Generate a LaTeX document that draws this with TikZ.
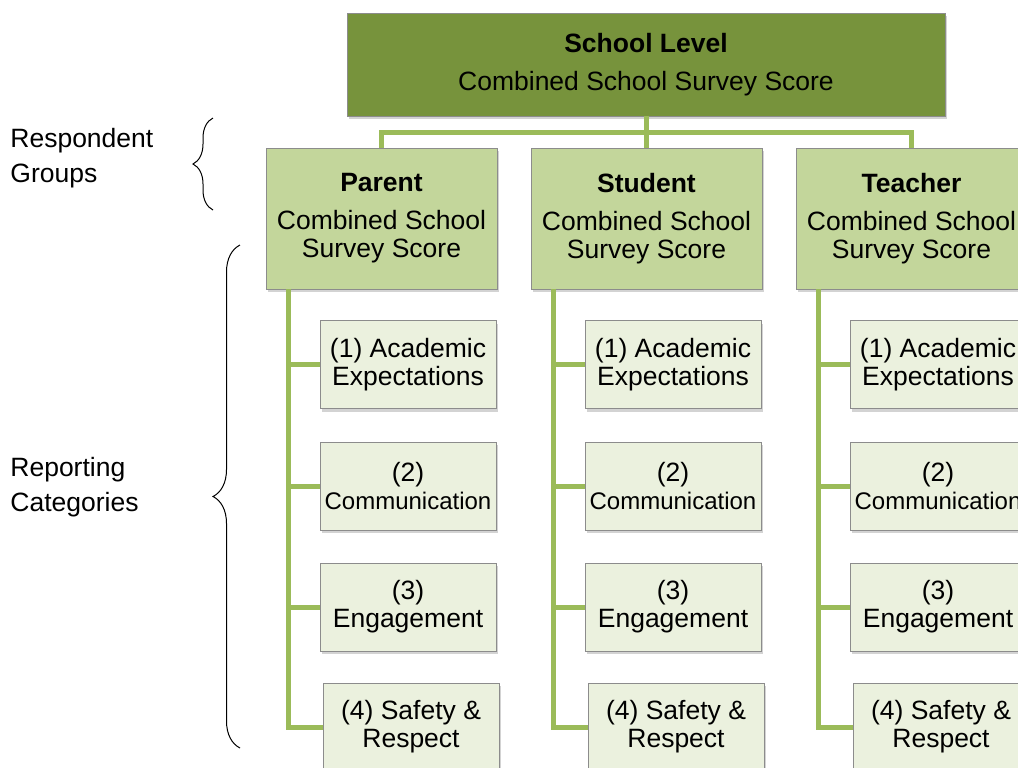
\documentclass[tikz,border=0pt]{standalone}
\usepackage{fontspec}
\setmainfont{Liberation Sans}
\usetikzlibrary{shadows,calc,decorations.pathreplacing}
\definecolor{levelgreen}{HTML}{77933C}
\definecolor{groupgreen}{HTML}{C3D69B}
\definecolor{catgreen}{HTML}{EBF1DE}
\definecolor{linkgreen}{HTML}{9BBB59}
\definecolor{boxgrey}{HTML}{8C8C8C}
\newcommand{\boxfont}{\fontsize{13.25}{14}\selectfont}
\newcommand{\catsmall}{\fontsize{12}{13.5}\selectfont}
\begin{document}
\begin{tikzpicture}
  [
    x=0.5pt, y=-0.5pt,
    box/.style={draw=boxgrey, line width=0.4pt, align=center, inner sep=0pt,
      drop shadow={shadow xshift=1.2pt, shadow yshift=-1.5pt, opacity=0.35}},
    levelbox/.style={box, fill=levelgreen, minimum width=299pt, minimum height=51.5pt, font=\boxfont},
    groupbox/.style={box, fill=groupgreen, minimum width=115.5pt, minimum height=70.5pt, font=\boxfont},
    catbox/.style={box, fill=catgreen, minimum width=88pt, minimum height=44pt, font=\boxfont},
    link/.style={draw=linkgreen, line width=2.5pt},
    sidelabel/.style={anchor=west, align=left, inner sep=0pt, font=\fontsize{13.25}{17.5}\selectfont},
    groupbrace/.style={decorate, decoration={brace, amplitude=#1}, line width=0.5pt}
  ]
  \useasboundingbox (0,0) rectangle (1018,767);
  % school level
  \node [levelbox] (top) at (646,64.5) {\textbf{School Level}\\[5pt]Combined School Survey Score};
  % respondent groups and their reporting categories
  \foreach \g/\x/\who in {1/381.5/Parent,2/646.5/Student,3/911.5/Teacher} {
      \node [groupbox] (grp\g) at (\x,218.5) {\textbf{\who}\\[5pt]Combined School\\Survey Score};
      \coordinate (spine\g) at ($(grp\g.south west)+(23,0)$);
      \foreach \j/\y/\dx/\txt in {1/364.5/0/{(1) Academic\\Expectations},
                                  2/486/0/{(2)\\{\catsmall Communication}},
                                  3/607/0/{(3)\\Engagement},
                                  4/727/3/{(4) Safety \&\\Respect}} {
          \node [catbox] (cat\g-\j) at (\x+26.5+\dx,\y) {\txt};
          \draw [link] (spine\g) |- (cat\g-\j.west);
      }
      \draw [link] (top.south) -- ++(0,16) -| (grp\g.north);
  }
  % labels
  \node [sidelabel] (respondent) at (10,158.5) {Respondent\\Groups};
  \node [sidelabel] (reporting) at (10,487.5) {Reporting\\Categories};
  \draw [groupbrace=10pt] (213,210) -- (213,118);
  \draw [groupbrace=13.5pt] (240,748) -- (240,245);
\end{tikzpicture}
\end{document}
